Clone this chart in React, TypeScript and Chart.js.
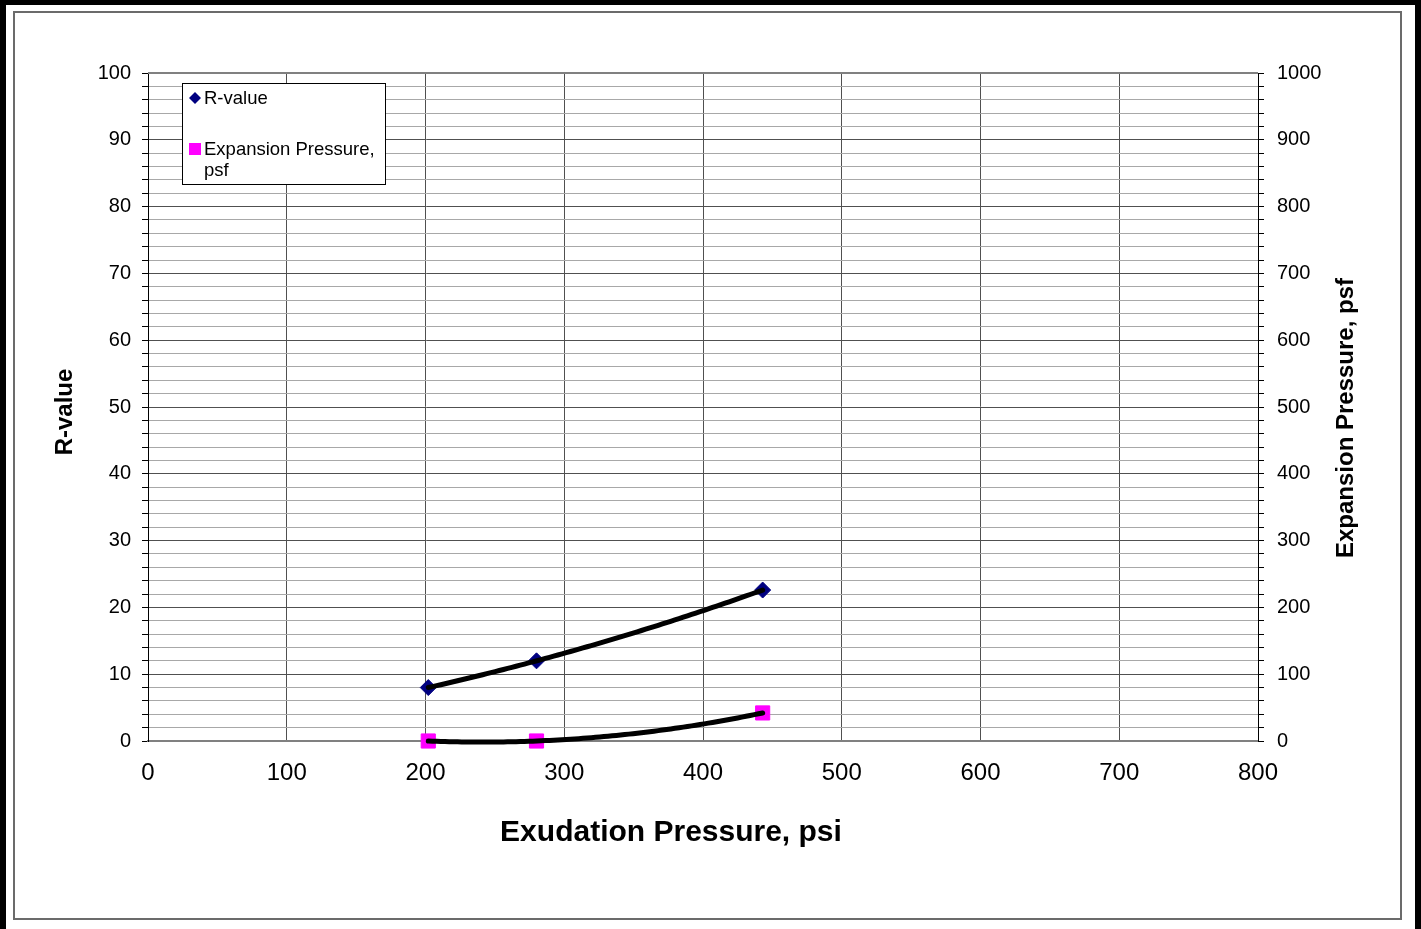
import React, { useEffect, useRef } from 'react';
import { Chart, registerables } from 'chart.js';

Chart.register(...registerables);

// ---- data ----
const exudationPressure = [202, 280, 443];
const rValues = [8.0, 12.0, 22.6];
const expansionPressure = [0, 0, 42];

const seriesNames = ['R-value', 'Expansion Pressure, psf'];
const legendLines = [['R-value'], ['Expansion Pressure,', 'psf']];
const xTitle = 'Exudation Pressure, psi';
const yTitle = 'R-value';
const y1Title = 'Expansion Pressure, psf';

const W = 1421;
const H = 929;
const FONT = '"Liberation Sans", Arial, sans-serif';

function quadFit(xs: number[], ys: number[]) {
  // least squares 2nd-order polynomial (Excel-style trendline)
  const n = xs.length;
  let s0 = n, s1 = 0, s2 = 0, s3 = 0, s4 = 0, t0 = 0, t1 = 0, t2 = 0;
  for (let i = 0; i < n; i++) {
    const x = xs[i], y = ys[i];
    s1 += x; s2 += x * x; s3 += x * x * x; s4 += x * x * x * x;
    t0 += y; t1 += x * y; t2 += x * x * y;
  }
  const M = [
    [s0, s1, s2, t0],
    [s1, s2, s3, t1],
    [s2, s3, s4, t2],
  ];
  for (let c = 0; c < 3; c++) {
    let p = c;
    for (let r = c + 1; r < 3; r++) if (Math.abs(M[r][c]) > Math.abs(M[p][c])) p = r;
    [M[c], M[p]] = [M[p], M[c]];
    for (let r = 0; r < 3; r++) {
      if (r === c) continue;
      const f = M[r][c] / M[c][c];
      for (let k = c; k < 4; k++) M[r][k] -= f * M[c][k];
    }
  }
  const a0 = M[0][3] / M[0][0];
  const a1 = M[1][3] / M[1][1];
  const a2 = M[2][3] / M[2][2];
  return (x: number) => a0 + a1 * x + a2 * x * x;
}

const trendPlugin = {
  id: 'trend',
  afterDatasetsDraw(chart: any) {
    const ctx = chart.ctx;
    const xs = chart.scales.x;
    ctx.save();
    chart.data.datasets.forEach((ds: any) => {
      const px = ds.data.map((d: any) => d.x);
      const py = ds.data.map((d: any) => d.y);
      const f = quadFit(px, py);
      const ys = chart.scales[ds.yAxisID];
      const x0 = Math.min(...px), x1 = Math.max(...px);
      ctx.beginPath();
      const N = 80;
      for (let i = 0; i <= N; i++) {
        const xv = x0 + ((x1 - x0) * i) / N;
        const X = xs.getPixelForValue(xv);
        const Y = ys.getPixelForValue(f(xv));
        if (i === 0) ctx.moveTo(X, Y); else ctx.lineTo(X, Y);
      }
      ctx.strokeStyle = '#000000';
      ctx.lineWidth = 5;
      ctx.lineCap = 'round';
      ctx.lineJoin = 'round';
      ctx.stroke();
    });
    ctx.restore();
  },
};

const decorPlugin = {
  id: 'decor',
  afterDraw(chart: any) {
    const ctx = chart.ctx;
    const ca = chart.chartArea;
    ctx.save();
    // top border of plot area
    ctx.strokeStyle = '#808080';
    ctx.lineWidth = 2;
    ctx.beginPath();
    ctx.moveTo(ca.left, ca.top);
    ctx.lineTo(ca.right, ca.top);
    ctx.stroke();

    ctx.fillStyle = '#000';
    ctx.textAlign = 'center';
    ctx.textBaseline = 'middle';
    // axis titles
    ctx.font = `bold 30px ${FONT}`;
    ctx.fillText(xTitle, (ca.left + ca.right) / 2 - 32, ca.bottom + 92);

    ctx.font = `bold 24px ${FONT}`;
    ctx.save();
    ctx.translate(ca.left - 83, (ca.top + ca.bottom) / 2 + 5);
    ctx.rotate(-Math.PI / 2);
    ctx.fillText(yTitle, 0, 0);
    ctx.restore();

    ctx.save();
    ctx.translate(ca.right + 88, (ca.top + ca.bottom) / 2 + 11);
    ctx.rotate(-Math.PI / 2);
    ctx.fillText(y1Title, 0, 0);
    ctx.restore();

    // legend
    const lx = ca.left + 34, ly = ca.top + 10, lw = 203, lh = 101;
    ctx.fillStyle = '#ffffff';
    ctx.fillRect(lx, ly, lw, lh);
    ctx.strokeStyle = '#000000';
    ctx.lineWidth = 1;
    ctx.strokeRect(lx + 0.5, ly + 0.5, lw, lh);

    ctx.font = `18.5px ${FONT}`;
    ctx.textAlign = 'left';
    ctx.textBaseline = 'middle';
    const d = chart.data.datasets;
    const cx = lx + 13;
    let cy = ly + 15;
    ctx.fillStyle = d[0].backgroundColor;
    ctx.beginPath();
    ctx.moveTo(cx - 6, cy);
    ctx.lineTo(cx, cy - 6);
    ctx.lineTo(cx + 6, cy);
    ctx.lineTo(cx, cy + 6);
    ctx.closePath();
    ctx.fill();
    ctx.fillStyle = '#000';
    ctx.fillText(legendLines[0][0], lx + 22, cy + 1);
    cy = ly + 66;
    ctx.fillStyle = d[1].backgroundColor;
    ctx.fillRect(cx - 6, cy - 6, 12, 12);
    ctx.fillStyle = '#000';
    ctx.fillText(legendLines[1][0], lx + 22, cy + 1);
    ctx.fillText(legendLines[1][1], lx + 22, cy + 22);
    ctx.restore();
  },
};

export default function App() {
  const ref = useRef<HTMLCanvasElement | null>(null);

  useEffect(() => {
    document.body.style.margin = '0';
    const canvas = ref.current;
    if (!canvas) return;
    const chart = new Chart(canvas, {
      type: 'scatter',
      data: {
        datasets: [
          {
            label: seriesNames[0],
            data: exudationPressure.map((x, i) => ({ x, y: rValues[i] })),
            yAxisID: 'y',
            backgroundColor: '#000080',
            borderColor: '#000080',
            pointStyle: 'rectRot',
            pointRadius: 8,
            pointHoverRadius: 8,
            pointBorderWidth: 1,
            showLine: false,
            clip: false,
          },
          {
            label: seriesNames[1],
            data: exudationPressure.map((x, i) => ({ x, y: expansionPressure[i] })),
            yAxisID: 'y1',
            backgroundColor: '#ff00ff',
            borderColor: '#ff00ff',
            pointStyle: 'rect',
            pointRadius: 10,
            pointHoverRadius: 10,
            showLine: false,
            clip: false,
          },
        ],
      },
      options: {
        animation: false,
        responsive: false,
        events: [],
        layout: { padding: { top: 73, left: 0, right: 0, bottom: 0 } },
        plugins: {
          legend: { display: false },
          tooltip: { enabled: false },
          title: { display: false },
        },
        scales: {
          x: {
            type: 'linear',
            position: 'bottom',
            min: 0,
            max: 800,
            afterFit: (s: any) => { s.height = H - 741; },
            ticks: {
              stepSize: 100,
              color: '#000',
              font: { family: FONT, size: 24 },
              padding: 18,
              maxRotation: 0,
            },
            grid: {
              color: '#505050',
              lineWidth: 1,
              drawTicks: false,
            },
            border: { color: '#808080', width: 2 },
          },
          y: {
            type: 'linear',
            position: 'left',
            min: 0,
            max: 100,
            afterFit: (s: any) => { s.width = 148; },
            ticks: {
              stepSize: 2,
              autoSkip: false,
              color: '#000',
              font: { family: FONT, size: 20 },
              padding: 11,
              callback: (v: any) => (Number(v) % 10 === 0 ? String(v) : ''),
            },
            grid: {
              color: (c: any) => (c.tick && c.tick.value % 10 === 0 ? '#505050' : '#a8a8a8'),
              lineWidth: 1,
              tickLength: 6,
              tickColor: '#000',
            },
            border: { color: '#000', width: 1 },
          },
          y1: {
            type: 'linear',
            position: 'right',
            min: 0,
            max: 1000,
            afterFit: (s: any) => { s.width = W - 1258; },
            ticks: {
              stepSize: 20,
              autoSkip: false,
              color: '#000',
              font: { family: FONT, size: 20 },
              padding: 13,
              callback: (v: any) => (Number(v) % 100 === 0 ? String(v) : ''),
            },
            grid: {
              drawOnChartArea: false,
              tickLength: 6,
              tickColor: '#000',
            },
            border: { color: '#000', width: 1 },
          },
        },
      },
      plugins: [trendPlugin, decorPlugin],
    } as any);
    return () => chart.destroy();
  }, []);

  return (
    <div style={{ position: 'relative', width: W, height: H, background: '#000', overflow: 'hidden' }}>
      <div style={{ position: 'absolute', left: 6, top: 5, width: 1409, height: 924, background: '#fff' }} />
      <div
        style={{
          position: 'absolute',
          left: 13,
          top: 11,
          width: 1389,
          height: 909,
          border: '2px solid #6b6b6b',
          boxSizing: 'border-box',
        }}
      />
      <canvas ref={ref} width={W} height={H} style={{ position: 'absolute', left: 0, top: 0 }} />
    </div>
  );
}
